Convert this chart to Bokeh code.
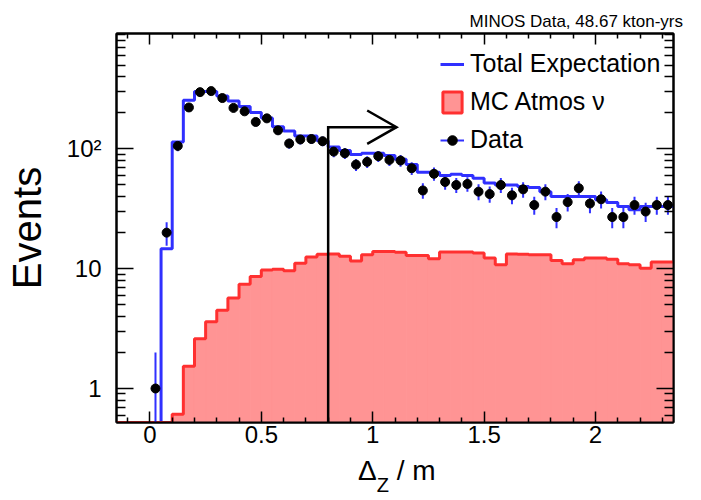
import numpy as np
from bokeh.plotting import figure
from bokeh.layouts import column
from bokeh.models import (Range1d, FixedTicker, LinearAxis, LogAxis, Legend,
                          LegendItem, CustomJSTickFormatter, Div)
from bokeh.embed import file_html
from bokeh.resources import INLINE

# ---------------- data ----------------
BIN_START = -0.15
BIN_WIDTH = 0.05

# observed events per 0.05 m bin, bins starting at -0.15 m
data_counts = [0, 0, 0,
               1, 20, 106, 222, 298, 304, 266, 220, 206, 168,
               180, 143, 111, 120, 121, 116, 95, 92, 74, 78,
               87, 81, 80, 69, 45, 62, 53, 50, 51, 44,
               42, 50, 41, 46, 34, 44, 27, 36, 47, 35,
               38, 27, 27, 34, 30, 34, 34]

# total expectation per bin
total_expectation = [0, 0, 0,
                     0, 14.7, 114, 255, 302, 302, 277, 251, 226, 201,
                     181, 153, 141, 128, 128, 117, 104, 97, 90, 92,
                     92, 88, 82, 74, 64, 64, 60, 61.5, 60, 57,
                     52, 50, 50, 48.5, 47.6, 44, 40, 40, 40, 40,
                     37.6, 35.7, 33, 31, 33, 33, 33]

# MC atmospheric neutrino expectation per bin
mc_atmos = [0, 0, 0,
            0, 0, 0.61, 1.53, 2.6, 3.6, 4.5, 5.7, 7.4, 8.6,
            9.75, 9.9, 9.6, 11.1, 12.5, 13.2, 13.3, 12.7, 11.6, 13.1,
            13.9, 13.9, 13.7, 12.9, 12.9, 12.1, 13.8, 13.8, 13.8, 13.5,
            12.3, 10.8, 13.3, 13.2, 13.1, 13.1, 11.7, 11.0, 11.9, 12.3,
            12.3, 12.0, 11.0, 10.8, 10.1, 11.4, 11.4]

cut_value = 0.8

x_ticks = [0, 0.5, 1, 1.5, 2]
x_tick_labels = ["0", "0.5", "1", "1.5", "2"]
x_minor = [-0.1, 0.1, 0.2, 0.3, 0.4, 0.6, 0.7, 0.8, 0.9, 1.1, 1.2, 1.3, 1.4,
           1.6, 1.7, 1.8, 1.9, 2.1, 2.2, 2.3]
y_ticks = [1, 10, 100]
y_tick_labels = ["1", "10", "10²"]
y_minor = [0.6, 0.7, 0.8, 0.9, 2, 3, 4, 5, 6, 7, 8, 9,
           20, 30, 40, 50, 60, 70, 80, 90, 200, 300, 400, 500, 600, 700, 800, 900]

legend_labels = ["Total Expectation", "MC Atmos ν", "Data"]
title_text = "MINOS Data, 48.67 kton-yrs"
y_title = "Events"

# ---------------- styling / geometry ----------------
FONT = "Liberation Sans"
BLUE = "#3030ff"
RED = "#ff3030"
PINK = "#ff9494"
X_MIN, X_MAX = -0.15, 2.35
Y_MIN, Y_MAX = 0.52, 920.0
FRAME_W, FRAME_H = 557, 389
B_LEFT, B_TOP, B_RIGHT, B_BOTTOM = 116, 33, 22, 32
FIG_W = B_LEFT + FRAME_W + B_RIGHT


def px_x(px):
    # reference-picture pixel -> data x (frame spans 120..677)
    return X_MIN + (px - 120) / FRAME_W * (X_MAX - X_MIN)


def px_y(py):
    # reference-picture pixel -> data y (frame spans 34..423, log axis)
    l0, l1 = np.log10(Y_MIN), np.log10(Y_MAX)
    return 10 ** (l0 + (423 - py) / FRAME_H * (l1 - l0))


n = len(data_counts)
x_edges = np.round(BIN_START + BIN_WIDTH * np.arange(n + 1), 4)
centers = 0.5 * (x_edges[:-1] + x_edges[1:])


def clamp(v):
    return np.maximum(np.asarray(v, dtype=float), Y_MIN)


p = figure(frame_width=FRAME_W, frame_height=FRAME_H, title=title_text,
           x_range=Range1d(X_MIN, X_MAX), y_range=Range1d(Y_MIN, Y_MAX),
           y_axis_type="log", output_backend="svg", toolbar_location=None,
           min_border_left=B_LEFT, min_border_right=B_RIGHT,
           min_border_top=B_TOP, min_border_bottom=B_BOTTOM)
p.grid.visible = False
p.outline_line_color = "black"
p.outline_line_width = 2
p.background_fill_color = "white"
p.border_fill_color = "white"
p.title.align = "left"
p.title.offset = 353
p.title.standoff = 2
p.title.vertical_align = "top"
p.title.text_font = FONT
p.title.text_font_size = "17px"
p.title.text_font_style = "normal"
p.title.text_color = "black"

# total expectation (blue step)
tot = clamp(total_expectation)
blue_r = p.step(x=x_edges, y=np.append(tot, tot[-1]), mode="after",
                line_color=BLUE, line_width=3)

# MC atmos (filled red histogram)
mc = clamp(mc_atmos)
p.quad(left=x_edges[:-1], right=x_edges[1:], bottom=Y_MIN, top=mc,
       fill_color=PINK, line_color=PINK, line_width=1)
p.step(x=x_edges, y=np.append(mc, mc[-1]), mode="after",
       line_color=RED, line_width=3)
# legend-only proxy (NaN geometry, never drawn in the frame)
mc_proxy = p.quad(left=[np.nan], right=[np.nan], top=[np.nan], bottom=[np.nan],
                  fill_color=PINK, line_color=RED, line_width=3)

# cut arrow
ay = px_y(127.7)
tip_x = px_x(400)
barb_x = px_x(370.7)
p.line(x=[cut_value, cut_value, tip_x], y=[Y_MIN, ay, ay],
       line_color="black", line_width=2.5, line_join="miter")
p.line(x=[barb_x, tip_x, barb_x], y=[px_y(111), ay, px_y(144.3)],
       line_color="black", line_width=2.5, line_join="miter")

# data with Poisson error bars
cnt = np.asarray(data_counts, dtype=float)
m = cnt > 0
err = np.sqrt(cnt[m])
seg_r = p.segment(x0=centers[m], y0=np.maximum(cnt[m] - err, Y_MIN),
                  x1=centers[m], y1=cnt[m] + err, line_color=BLUE, line_width=2)
dot_r = p.scatter(centers[m], cnt[m], size=9, fill_color="black",
                  line_color="black")

# ---------------- axes ----------------
xt = FixedTicker(ticks=x_ticks, minor_ticks=x_minor)
yt = FixedTicker(ticks=y_ticks, minor_ticks=y_minor)
blank = CustomJSTickFormatter(code="return ''")


def style_axis(ax, tick_in, minor_in):
    ax.axis_line_color = "black"
    ax.axis_line_width = 2
    ax.major_tick_in = tick_in
    ax.major_tick_out = 0
    ax.minor_tick_in = minor_in
    ax.minor_tick_out = 0
    ax.major_tick_line_width = 1.5
    ax.minor_tick_line_width = 1.5
    ax.major_label_text_font = FONT
    ax.major_label_text_font_size = "24px"
    ax.major_label_text_color = "black"
    ax.axis_label_text_font = FONT
    ax.axis_label_text_font_style = "normal"
    ax.axis_label_text_color = "black"


xa = p.xaxis[0]
xa.ticker = xt
xa.major_label_overrides = dict(zip(x_ticks, x_tick_labels))
xa.major_label_standoff = 3
style_axis(xa, 11, 5)

ya = p.yaxis[0]
ya.ticker = yt
ya.major_label_overrides = dict(zip(y_ticks, y_tick_labels))
ya.major_label_standoff = 15
ya.axis_label = y_title
ya.axis_label_standoff = 15
style_axis(ya, 17, 9)
ya.axis_label_text_font_size = "40px"

top = LinearAxis(ticker=xt, formatter=blank, major_label_standoff=0)
style_axis(top, 11, 5)
p.add_layout(top, "above")
right = LogAxis(ticker=yt, formatter=blank, major_label_standoff=0)
style_axis(right, 17, 9)
p.add_layout(right, "right")

# ---------------- legend ----------------
legend = Legend(items=[LegendItem(label=legend_labels[0], renderers=[blue_r]),
                       LegendItem(label=legend_labels[1], renderers=[mc_proxy]),
                       LegendItem(label=legend_labels[2], renderers=[seg_r, dot_r])],
                location=(324, 268), orientation="vertical",
                label_text_font=FONT, label_text_font_size="25px",
                label_text_color="black",
                glyph_width=24, glyph_height=26, label_height=26,
                label_standoff=6, spacing=9, padding=0, margin=0,
                border_line_alpha=0, background_fill_alpha=0)
p.add_layout(legend)

# ---------------- x-axis title (with subscript) ----------------
x_title_html = (
    "<div style=\"margin-left:353px; margin-top:0px; white-space:nowrap; "
    "font-family:'Liberation Sans'; font-size:28px; line-height:24px; color:black\">"
    "Δ<span style=\"font-size:20px; position:relative; top:12px\">Z</span> / m</div>"
)
x_title = Div(text=x_title_html, width=FIG_W, height=36)

layout = column(p, x_title, spacing=0)
open("out.html", "w").write(file_html(layout, INLINE))
